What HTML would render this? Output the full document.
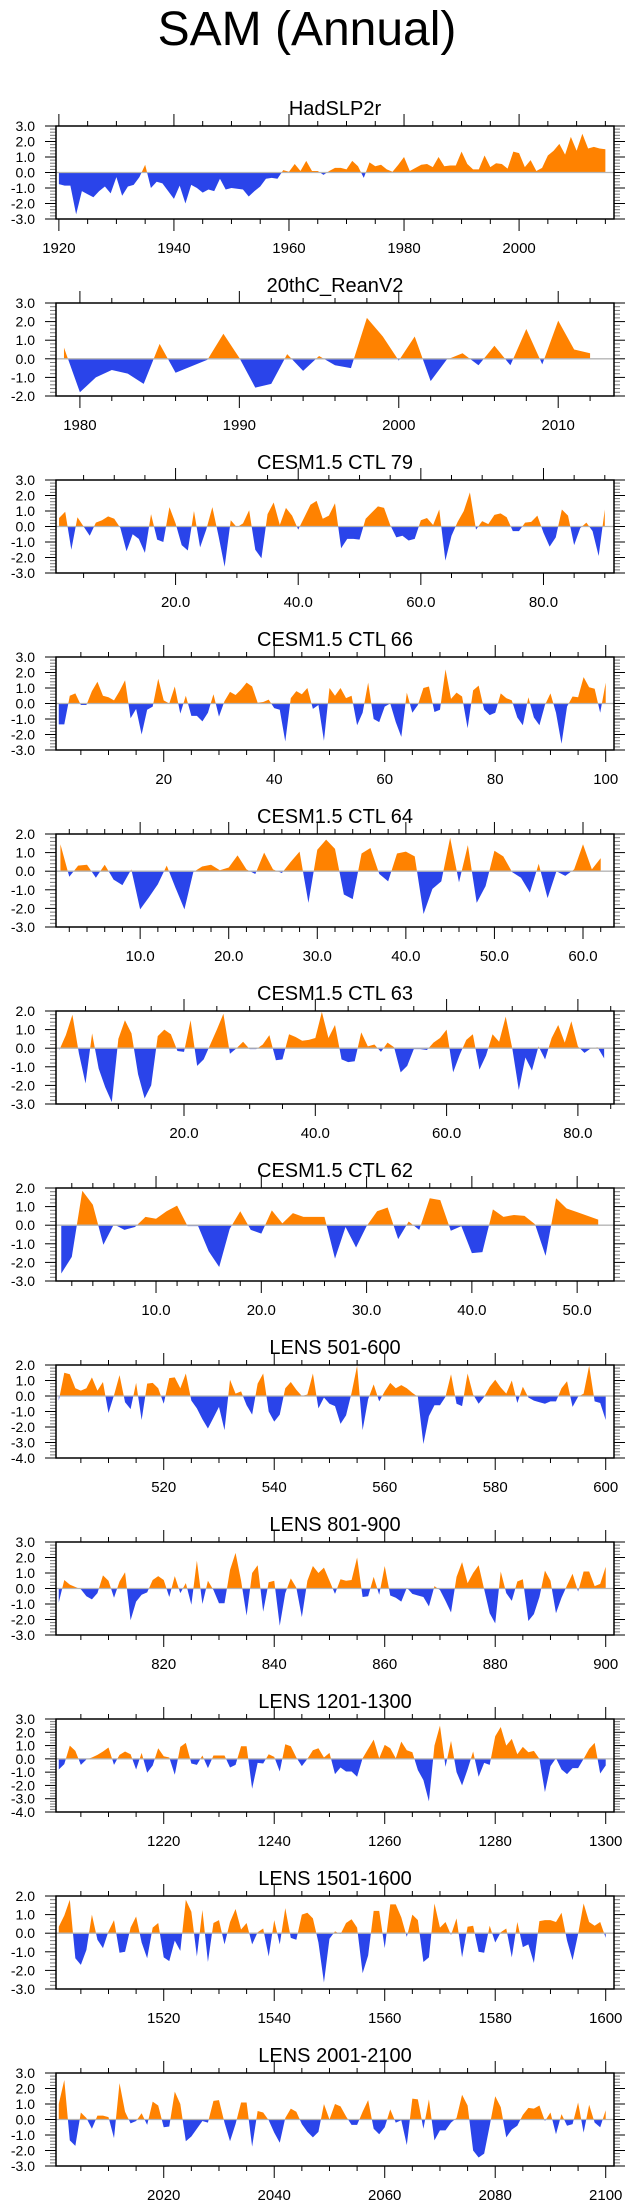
<!DOCTYPE html>
<html>
<head>
<meta charset="utf-8">
<style>
html,body{margin:0;padding:0;background:#fff;}
svg{display:block;font-family:"Liberation Sans",Arial,sans-serif;}
</style>
</head>
<body>
<svg id="chart" width="635" height="2208" viewBox="0 0 635 2208" xmlns="http://www.w3.org/2000/svg">
<rect x="0" y="0" width="635" height="2208" fill="#ffffff"/>
<text x="307" y="45" font-size="48" text-anchor="middle" fill="#000">SAM (Annual)</text>
</svg>
<script>
// ---- data ----
const hadslp2r = [-0.75,-0.85,-0.85,-2.7,-1.2,-1.4,-1.6,-1.2,-0.9,-1.35,-0.3,-1.5,-0.9,-0.8,-0.3,0.5,-1.0,-0.6,-0.7,-1.2,-1.7,-0.85,-2.0,-0.8,-1.0,-1.3,-1.1,-1.2,-0.4,-1.1,-1.0,-1.05,-1.1,-1.55,-1.2,-0.9,-0.4,-0.35,-0.4,0.15,0.05,0.55,0.1,0.75,0.1,0.1,-0.15,0.1,0.3,0.3,0.2,0.75,0.4,-0.35,0.65,0.4,0.5,0.2,0.05,0.5,1.0,0.1,0.3,0.5,0.55,0.35,1.0,0.4,0.45,0.45,1.35,0.55,0.2,0.2,1.1,0.35,0.6,0.55,0.25,1.35,1.25,0.35,0.8,0.1,0.3,1.1,1.4,1.85,1.15,2.3,1.4,2.5,1.55,1.65,1.55,1.5];
const reanV2 = [0.6,-1.8,-1.0,-0.6,-0.8,-1.35,0.8,-0.75,-0.4,-0.05,1.35,0.05,-1.55,-1.35,0.25,-0.65,0.15,-0.35,-0.5,2.2,1.2,-0.1,1.2,-1.2,-0.05,0.3,-0.35,0.7,-0.35,1.6,-0.3,2.05,0.5,0.3];
const ctl79 = [0.55,0.95,-1.5,0.6,0.0,-0.6,0.25,0.4,0.65,0.5,-0.1,-1.6,-0.5,-0.8,-1.7,0.8,-0.85,-1.0,1.25,0.2,-1.2,-1.55,1.0,-1.35,-0.2,1.25,-0.6,-2.6,0.4,-0.05,0.2,1.05,-1.5,-2.05,0.8,1.55,0.1,1.2,0.7,-0.2,0.6,1.4,1.65,0.5,0.7,1.5,-1.4,-0.8,-0.8,-0.85,0.5,0.9,1.3,1.2,0.1,-0.7,-0.6,-0.9,-0.8,0.4,0.55,0.1,1.1,-2.2,-0.6,0.3,1.0,2.2,-0.2,0.35,0.15,0.75,0.85,0.6,-0.3,-0.3,0.25,0.3,0.7,-0.4,-1.3,-0.7,1.1,0.7,-1.2,-0.1,0.25,-0.3,-1.9,1.1];
const ctl66 = [-1.35,-1.35,0.5,0.65,-0.1,-0.1,0.8,1.4,0.5,0.4,0.2,0.8,1.5,-0.95,-0.35,-2.0,-0.4,-0.2,1.6,0.2,0.0,1.1,-0.65,0.5,-0.8,-0.8,-1.15,-0.6,0.6,-0.85,0.15,0.75,0.55,0.9,1.35,1.1,0.05,0.1,0.25,-0.3,-0.4,-2.45,0.35,0.8,0.6,1.0,-0.35,-0.1,-2.4,1.0,0.5,1.0,0.35,0.5,-1.4,-0.6,1.35,-1.0,-1.2,-0.2,0.0,-1.2,-2.15,0.7,-0.6,-0.1,1.0,1.1,-0.55,-0.4,2.2,0.3,0.7,0.45,-1.6,0.85,1.15,-0.4,-0.75,-0.6,0.65,0.35,0.2,-0.9,-1.4,0.4,-0.9,-1.4,-0.1,0.65,-0.6,-2.6,-0.2,0.45,0.4,1.7,1.05,0.95,-0.6,1.35];
const ctl64 = [1.45,-0.3,0.3,0.35,-0.35,0.35,-0.45,-0.75,0.1,-2.05,-1.4,-0.7,0.3,-0.9,-2.05,-0.05,0.25,0.35,0.05,0.2,0.85,0.1,-0.15,1.0,0.1,-0.1,0.5,1.05,-1.7,1.15,1.7,1.2,-1.25,-1.5,0.95,1.25,-0.15,-0.55,0.95,1.05,0.8,-2.3,-0.95,-0.55,1.8,-0.6,1.4,-1.7,-0.8,1.1,0.8,-0.05,-0.35,-1.15,0.4,-1.45,0.0,-0.25,0.1,1.45,0.1,0.7];
const ctl63 = [-0.1,0.7,1.8,-0.3,-1.9,0.8,-1.1,-2.1,-2.9,0.5,1.5,0.8,-1.4,-2.7,-2.0,0.65,1.0,0.75,-0.15,-0.2,1.5,-0.95,-0.6,0.2,1.0,1.85,-0.3,0.0,0.35,-0.05,-0.05,0.2,0.7,-0.65,-0.6,0.75,0.6,0.4,0.45,0.55,1.95,0.55,1.25,-0.6,-0.75,-0.7,0.85,0.1,0.2,-0.2,0.3,0.05,-1.3,-0.95,-0.05,-0.05,-0.1,0.3,0.55,1.0,-1.3,-0.35,0.45,0.75,-1.15,-0.4,0.75,0.35,1.7,0.0,-2.25,-0.5,-1.2,0.1,-0.6,0.55,1.25,0.3,1.45,0.1,-0.25,0.0,0.05,-0.55];
const ctl62 = [-2.6,-1.7,1.85,1.1,-1.05,0.05,-0.25,-0.1,0.45,0.35,0.75,1.05,-0.05,-0.05,-1.4,-2.25,-0.2,0.75,-0.25,-0.45,0.8,0.1,0.65,0.45,0.45,0.45,-1.8,-0.1,-1.2,-0.05,0.75,0.95,-0.75,0.2,-0.25,1.45,1.35,-0.3,-0.05,-1.5,-1.45,0.85,0.45,0.55,0.5,0.05,-1.65,1.45,0.9,0.7,0.5,0.3];
const lens501 = [-0.3,1.5,1.4,0.5,0.35,0.5,1.2,0.35,0.9,-1.1,0.05,1.35,-0.4,-0.85,0.85,-1.55,0.8,0.85,0.5,-0.5,1.15,1.2,0.5,1.45,-0.3,-0.8,-1.5,-2.1,-1.4,-0.7,-2.2,1.05,0.15,0.3,-0.6,-1.2,0.8,1.45,-1.0,-1.65,-1.2,0.5,0.9,0.4,0.0,0.1,1.45,-0.8,-0.1,-0.5,-0.65,-1.8,-1.25,0.2,1.95,-2.2,-0.2,0.75,-0.35,0.3,0.85,0.5,0.7,0.5,0.2,-0.05,-3.1,-1.3,-0.6,-0.6,-0.05,1.4,-0.5,-0.65,1.45,0.1,-0.5,-0.05,0.6,1.05,0.55,0.15,1.0,-0.45,0.6,-0.1,-0.3,-0.4,-0.5,-0.35,-0.35,0.5,0.95,-0.7,-0.05,0.15,1.95,-0.35,-0.45,-1.55];
const lens801 = [-0.9,0.55,0.25,0.1,-0.05,-0.5,-0.7,-0.3,0.85,0.5,-0.6,0.45,1.05,-2.05,-0.85,-0.4,-0.25,0.55,0.8,0.55,-0.55,0.8,-0.3,0.35,-1.05,1.8,-1.0,0.5,-0.1,-0.95,-0.95,1.2,2.3,0.5,-1.75,1.0,1.5,-1.5,0.4,0.5,-2.4,-0.3,0.65,0.05,-1.85,0.5,1.45,1.0,1.35,0.5,-0.35,0.6,0.5,0.55,2.0,-0.55,-0.5,0.75,-0.4,1.45,-0.45,-0.6,-0.85,0.05,-0.35,-0.45,-0.55,-1.15,0.15,-0.1,-0.8,-1.55,0.75,1.7,0.35,1.0,1.5,-0.05,-1.6,-2.25,1.1,-0.3,-0.8,0.45,0.6,-2.1,-1.65,-0.55,1.15,0.5,-1.6,-0.6,0.2,0.95,-0.2,1.1,1.1,0.15,0.3,1.4];
const lens1201 = [-0.8,-0.4,1.0,0.6,-0.45,-0.05,0.1,0.3,0.55,0.85,-0.45,0.3,0.55,0.35,-0.8,0.45,-1.05,-0.5,0.8,0.2,0.1,-1.2,0.9,1.2,-0.35,-0.45,0.25,-0.7,0.25,0.25,0.25,-0.65,-0.45,0.95,0.95,-2.25,-0.3,-0.35,0.35,0.15,-0.95,1.1,0.95,0.1,-0.55,0.0,0.65,0.8,0.1,0.45,-1.15,-0.65,-0.95,-0.95,-1.35,0.05,0.75,1.45,0.05,1.05,0.8,0.05,1.3,0.65,0.5,-0.85,-1.6,-3.2,1.0,2.5,-0.6,1.35,-1.0,-2.0,-0.8,0.55,-1.35,-0.3,-0.45,1.7,2.4,1.0,1.5,0.35,0.9,0.5,0.6,0.0,-2.5,-0.55,0.05,-0.8,-1.15,-0.7,-0.7,0.0,0.75,1.2,-1.1,-0.5];
const lens1501 = [0.35,0.95,1.8,-1.35,-1.7,-0.9,1.0,-0.35,-0.8,0.1,0.7,-1.05,-1.0,0.3,0.9,-0.5,-1.35,0.3,0.55,-1.3,-1.5,-0.4,-0.95,1.8,1.15,-1.25,1.25,-1.55,0.55,0.7,-0.6,0.6,1.3,0.2,0.55,-0.6,0.05,0.25,-1.25,0.7,-0.6,1.35,-0.25,-0.35,1.0,1.1,0.8,-0.5,-2.65,-0.3,0.1,-0.05,0.55,0.75,0.3,-2.15,-1.2,1.2,1.2,-0.8,1.55,1.55,0.85,-0.2,1.0,0.7,-1.55,-1.3,1.6,0.3,0.6,-0.1,0.8,-1.3,0.35,0.4,-1.0,-1.05,0.4,-0.5,0.05,0.25,-1.3,0.6,-0.75,-0.6,-1.6,0.65,0.7,0.7,0.6,1.1,-0.4,-1.45,-0.05,1.6,0.6,0.4,0.6,-0.25];
const lens2001 = [1.0,2.55,-1.35,-1.7,0.45,0.1,-0.6,0.25,0.25,0.15,-1.2,2.35,0.5,-0.25,-0.1,0.4,-0.35,1.15,0.9,-0.5,-0.45,1.8,1.0,-1.4,-1.1,-0.6,-0.1,-0.2,1.2,1.25,-0.2,-1.4,-0.3,1.1,1.1,-1.75,0.55,0.45,-0.05,-0.85,-1.5,0.1,0.7,0.5,-0.3,-0.8,-1.15,-0.8,1.0,0.0,1.0,0.85,0.2,-0.35,-0.35,0.5,1.25,-0.6,-0.95,-0.5,0.65,-0.2,-0.05,-1.65,1.35,1.3,-0.6,1.3,-1.35,-0.7,-0.7,-0.2,0.1,1.6,0.9,-2.0,-2.45,-2.2,-0.4,1.5,0.8,-1.15,-0.65,-0.4,0.3,0.75,0.7,0.9,-0.1,0.45,-0.95,0.35,-0.4,-0.3,1.1,-0.85,0.95,-0.2,-0.5,0.6];

const panelTitles = ["HadSLP2r","20thC_ReanV2","CESM1.5 CTL 79","CESM1.5 CTL 66","CESM1.5 CTL 64","CESM1.5 CTL 63","CESM1.5 CTL 62","LENS 501-600","LENS 801-900","LENS 1201-1300","LENS 1501-1600","LENS 2001-2100"];
const panelSeries = [hadslp2r,reanV2,ctl79,ctl66,ctl64,ctl63,ctl62,lens501,lens801,lens1201,lens1501,lens2001];
const panelStart = [1920,1979,1,1,1,1,1,501,801,1201,1501,2001];
const panelYMin = [-3,-2,-3,-3,-3,-3,-3,-4,-3,-4,-3,-3];
const panelYMax = [3,3,3,3,2,2,2,2,3,3,2,3];
const panelXMajor = [20,10,20,20,10,20,10,20,20,20,20,20];
const panelXMinor = [5,2,5,5,2,5,2,5,5,5,5,5];
const panelXDecimals = [0,0,1,0,1,1,1,0,0,0,0,0];

// ---- layout ----
const NS = "http://www.w3.org/2000/svg";
const svg = document.getElementById("chart");
const BOX_L = 56, BOX_R = 614, BOX_H = 93, PANEL_STEP = 177, FIRST_TITLE = 108;
const ORANGE = "#ff8200", BLUE = "#2a44ea";

function mk(tag, attrs, parent) {
  const e = document.createElementNS(NS, tag);
  for (const k in attrs) e.setAttribute(k, attrs[k]);
  parent.appendChild(e);
  return e;
}

panelSeries.forEach(function (vals, p) {
  const g = mk("g", {}, svg);
  
  
  const titleY = FIRST_TITLE + PANEL_STEP * p;
  const top = titleY + 18, bot = top + BOX_H;
  const start = panelStart[p], n = vals.length;
  const xmin = start - 0.5, xmax = start + n - 1 + 1.5;
  const ymin = panelYMin[p], ymax = panelYMax[p];
  const xs = function (v) { return BOX_L + (v - xmin) / (xmax - xmin) * (BOX_R - BOX_L); };
  const ys = function (v) { return bot - (v - ymin) / (ymax - ymin) * BOX_H; };

  const t = mk("text", {x: (BOX_L + BOX_R) / 2, y: titleY + 7, "font-size": 20, "text-anchor": "middle", fill: "#000"}, g);
  t.textContent = panelTitles[p];
  
  

  // area fill
  const y0 = ys(0);
  let d = "M" + xs(start).toFixed(2) + "," + y0.toFixed(2);
  vals.forEach(function (v, i) { d += "L" + xs(start + i).toFixed(2) + "," + ys(v).toFixed(2); });
  d += "L" + xs(start + n - 1).toFixed(2) + "," + y0.toFixed(2) + "Z";
  const cidA = "ca" + p, cidB = "cb" + p;
  const defs = mk("defs", {}, g);
  const cA = mk("clipPath", {id: cidA}, defs);
  mk("rect", {x: 0, y: top - 5, width: 635, height: y0 - top + 5}, cA);
  const cB = mk("clipPath", {id: cidB}, defs);
  mk("rect", {x: 0, y: y0, width: 635, height: bot - y0 + 5}, cB);
  const pos = mk("path", {d: d, fill: ORANGE, "clip-path": "url(#" + cidA + ")"}, g);
  
  
  const neg = mk("path", {d: d, fill: BLUE, "clip-path": "url(#" + cidB + ")"}, g);
  
  

  const zl = mk("line", {x1: BOX_L, x2: BOX_R, y1: y0, y2: y0, stroke: "#b4b4b4", "stroke-width": 1.3}, g);
  
  

  // y ticks
  for (let v = ymin; v <= ymax + 1e-6; v += 0.2) {
    const vv = Math.round(v * 10) / 10;
    const y = ys(vv);
    const major = Math.abs(vv - Math.round(vv)) < 1e-6;
    const len = major ? 11 : 6;
    mk("line", {x1: BOX_L - len, x2: BOX_L, y1: y, y2: y, stroke: major ? "#000" : "#777", "stroke-width": 1}, g);
    mk("line", {x1: BOX_R, x2: BOX_R + len, y1: y, y2: y, stroke: major ? "#000" : "#777", "stroke-width": 1}, g);
    if (major) {
      const lb = mk("text", {x: 35, y: y + 5, "font-size": 14, "text-anchor": "end", fill: "#000"}, g);
      lb.textContent = vv.toFixed(1);
      
      
    }
  }
  // x ticks
  const mi = panelXMinor[p], ma = panelXMajor[p];
  for (let v = Math.ceil(xmin / mi) * mi; v <= xmax; v += mi) {
    const x = xs(v);
    const major = v % ma === 0;
    const len = major ? 12 : 5;
    mk("line", {x1: x, x2: x, y1: bot, y2: bot + len, stroke: "#000", "stroke-width": 1}, g);
    mk("line", {x1: x, x2: x, y1: top, y2: top - len, stroke: "#000", "stroke-width": 1}, g);
    if (major) {
      const lb = mk("text", {x: x, y: bot + 34, "font-size": 15, "text-anchor": "middle", fill: "#000"}, g);
      lb.textContent = v.toFixed(panelXDecimals[p]);
      
      
    }
  }
  const fr = mk("rect", {x: BOX_L, y: top, width: BOX_R - BOX_L, height: BOX_H, fill: "none", stroke: "#000", "stroke-width": 1.5}, g);
  
  
});
</script>
</body>
</html>
